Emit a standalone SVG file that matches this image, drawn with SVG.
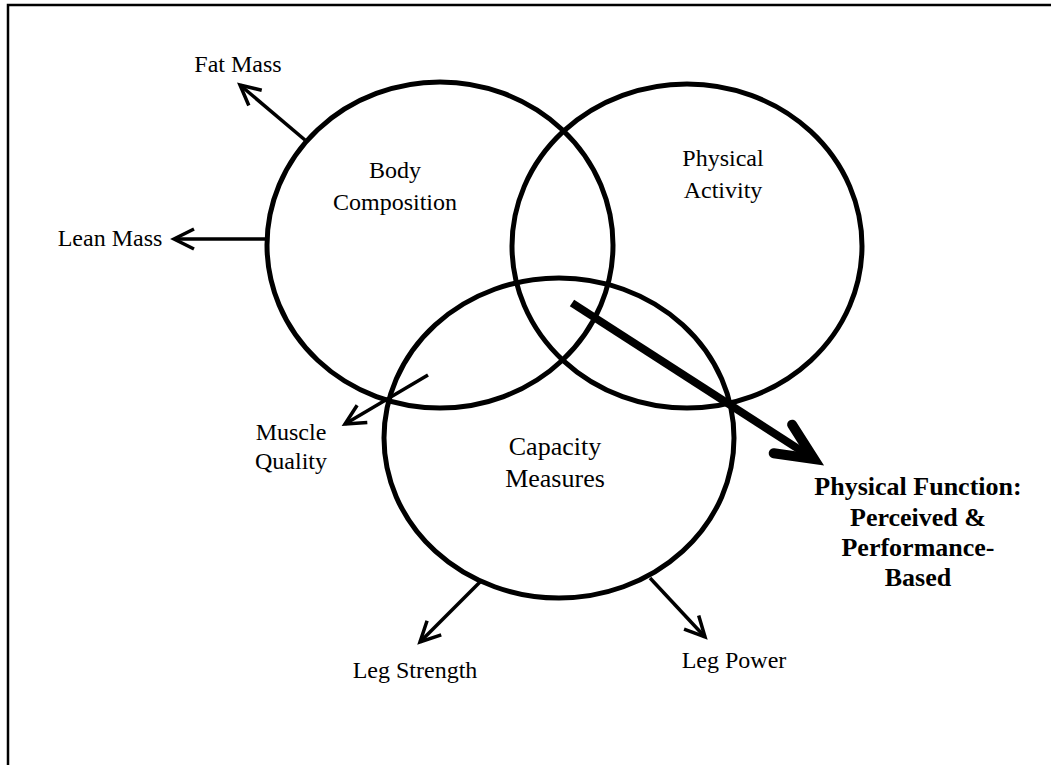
<svg xmlns="http://www.w3.org/2000/svg" width="1051" height="765" viewBox="0 0 1051 765">
<style>
.circle{fill:none;stroke:#000;stroke-width:5}
.lbl{font-family:"Liberation Serif","Times New Roman",serif;font-size:24px;fill:#000;text-anchor:middle}
.big{font-size:26px}
.bold{font-weight:bold;font-size:26px}
.thin{fill:none;stroke:#000;stroke-width:3.5}
.thick{fill:none;stroke:#000;stroke-width:8}
</style>
<defs>
<marker id="ah" markerUnits="userSpaceOnUse" markerWidth="40" markerHeight="40" viewBox="-30 -20 40 40" refX="0" refY="0" orient="auto">
<path d="M -20 -10 L 0 0 L -20 10" fill="none" stroke="#000" stroke-width="3.5" stroke-linejoin="miter"/>
</marker>
<marker id="bigah" markerUnits="userSpaceOnUse" markerWidth="80" markerHeight="80" viewBox="-60 -40 80 80" refX="0" refY="0" orient="auto">
<path d="M -37 -17 L 0 0 L -37 17" fill="none" stroke="#000" stroke-width="10" stroke-linecap="round" stroke-linejoin="miter"/>
</marker>
</defs>
<rect width="1051" height="765" fill="#fff"/>
<path d="M 8 765 L 8 5 L 1051 5" fill="none" stroke="#000" stroke-width="2.5"/>
<g id="body-composition">
<ellipse class="circle" cx="440" cy="245" rx="173" ry="163"/>
<text class="lbl" x="395" y="178">Body</text>
<text class="lbl" x="395" y="210">Composition</text>
</g>
<g id="physical-activity">
<ellipse class="circle" cx="687" cy="246" rx="175" ry="162"/>
<text class="lbl" x="723" y="166">Physical</text>
<text class="lbl" x="723" y="198">Activity</text>
</g>
<g id="capacity-measures">
<ellipse class="circle" cx="559" cy="438" rx="175" ry="160"/>
<text class="lbl big" x="555" y="455">Capacity</text>
<text class="lbl big" x="555" y="487">Measures</text>
</g>
<g id="fat-mass"><text class="lbl" x="238" y="72">Fat Mass</text></g>
<g id="lean-mass"><text class="lbl" x="110" y="246">Lean Mass</text></g>
<g id="muscle-quality">
<text class="lbl" x="291" y="440">Muscle</text>
<text class="lbl" x="291" y="469">Quality</text>
</g>
<g id="leg-strength"><text class="lbl" x="415" y="678">Leg Strength</text></g>
<g id="leg-power"><text class="lbl" x="734" y="668">Leg Power</text></g>
<g id="physical-function">
<text class="lbl bold" x="918" y="495">Physical Function:</text>
<text class="lbl bold" x="918" y="526">Perceived &amp;</text>
<text class="lbl bold" x="918" y="556">Performance-</text>
<text class="lbl bold" x="918" y="586">Based</text>
</g>
<g id="connectors">
<path class="thin" d="M 305 140 L 240 85" marker-end="url(#ah)"/>
<path class="thin" d="M 267 239 L 174 239" marker-end="url(#ah)"/>
<path class="thin" d="M 428 375 L 345 424" marker-end="url(#ah)"/>
<path class="thin" d="M 480 582 L 420 642" marker-end="url(#ah)"/>
<path class="thin" d="M 650 578 L 705 637" marker-end="url(#ah)"/>
<path class="thick" d="M 572 303 L 814 459" marker-end="url(#bigah)"/>
</g>
</svg>
